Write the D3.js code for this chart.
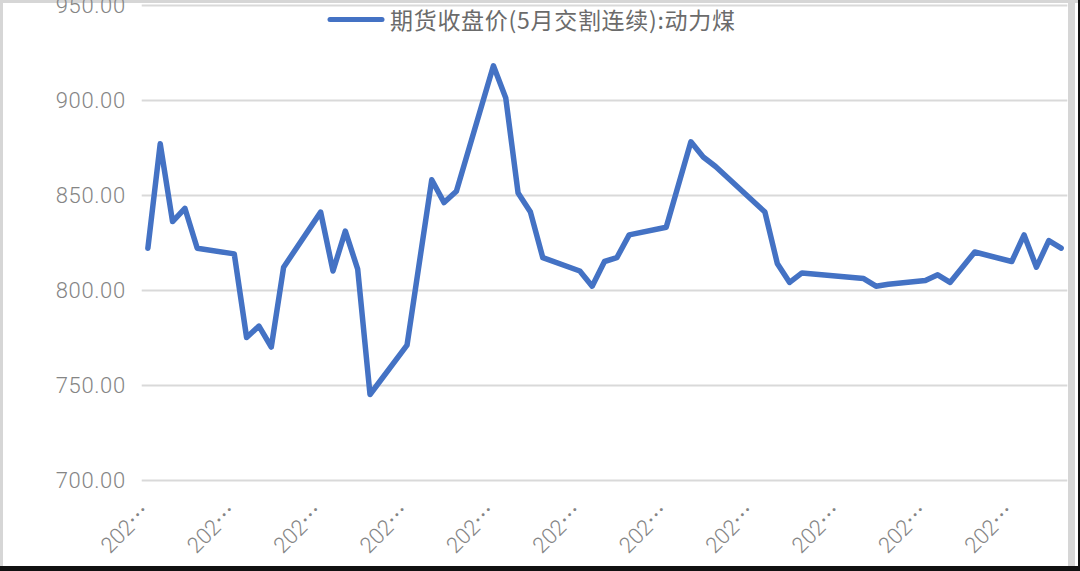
<!DOCTYPE html>
<html>
<head>
<meta charset="utf-8">
<script src="https://cdn.jsdelivr.net/npm/d3@7/dist/d3.min.js"></script>
<style>
  html, body { margin: 0; padding: 0; background: #fff; }
  svg { display: block; }
</style>
</head>
<body>
<svg id="chart" width="1080" height="571"></svg>
<script>
// ---- data ----
const seriesName = "期货收盘价(5月交割连续):动力煤";
const dates = [
  "2022-02-07","2022-02-08","2022-02-09","2022-02-10","2022-02-11",
  "2022-02-14","2022-02-15","2022-02-16","2022-02-17","2022-02-18",
  "2022-02-21","2022-02-22","2022-02-23","2022-02-24","2022-02-25",
  "2022-02-28","2022-03-02","2022-03-03","2022-03-04",
  "2022-03-07","2022-03-08","2022-03-09","2022-03-10","2022-03-11",
  "2022-03-14","2022-03-15","2022-03-16","2022-03-17","2022-03-18",
  "2022-03-21","2022-03-23","2022-03-24","2022-03-25",
  "2022-03-29","2022-03-30","2022-03-31","2022-04-01",
  "2022-04-06","2022-04-07","2022-04-08",
  "2022-04-11","2022-04-12","2022-04-13","2022-04-15",
  "2022-04-18","2022-04-19","2022-04-20","2022-04-21","2022-04-22"
];
const values = [
  822, 877, 836, 843, 822,
  819, 775, 781, 770, 812,
  841, 810, 831, 811, 745,
  771, 858, 846, 852,
  918, 901, 851, 841, 817,
  810, 802, 815, 817, 829,
  833, 878, 870, 865,
  841, 814, 804, 809,
  806, 802, 803,
  805, 808, 804, 820,
  815, 829, 812, 826, 822
];
const tickDates = [
  "2022-02-07","2022-02-14","2022-02-21","2022-02-28","2022-03-07",
  "2022-03-14","2022-03-21","2022-03-28","2022-04-04","2022-04-11","2022-04-18"
];
const yTicks = [700, 750, 800, 850, 900, 950];

// ---- setup ----
const parse = d3.utcParse("%Y-%m-%d");
const fmtFull = d3.utcFormat("%Y-%m-%d");
const data = dates.map((d, i) => ({ date: parse(d), value: values[i] }));
const halfDay = 12 * 3600 * 1000;

const svg = d3.select("#chart");
const W = 1080, H = 571;
const plotLeft = 141.7, plotRight = 1067.3;

const x = d3.scaleUtc()
  .domain([new Date(+data[0].date - halfDay), new Date(+data[data.length - 1].date + halfDay)])
  .range([plotLeft, plotRight]);
const y = d3.scaleLinear().domain([700, 950]).range([480, 5]);

// frame
svg.append("rect").attr("x", 0).attr("y", 0).attr("width", W).attr("height", H).attr("fill", "#fff");
svg.append("rect").attr("x", 0).attr("y", 0).attr("width", 3).attr("height", H).attr("fill", "#d6d6d6");
svg.append("rect").attr("x", 0).attr("y", 0).attr("width", W).attr("height", 3).attr("fill", "#d6d6d6");
svg.append("rect").attr("x", 1068).attr("y", 0).attr("width", 7).attr("height", H).attr("fill", "#d6d6d6");
svg.append("rect").attr("x", 1078).attr("y", 0).attr("width", 2).attr("height", H).attr("fill", "#111");
svg.append("rect").attr("x", 0).attr("y", 566).attr("width", W).attr("height", 5).attr("fill", "#111");

// y grid + labels
const yAxis = d3.axisLeft(y)
  .tickValues(yTicks)
  .tickSize(-(plotRight - plotLeft))
  .tickPadding(16)
  .tickFormat(d3.format(".2f"));
const gy = svg.append("g").attr("transform", `translate(${plotLeft},0)`).call(yAxis);
gy.select(".domain").remove();
gy.selectAll(".tick line").attr("stroke", "#d9d9d9").attr("stroke-width", 2);
gy.selectAll(".tick text")
  .attr("fill", "#858585")
  .attr("font-family", "Roboto, 'Noto Sans', sans-serif")
  .attr("font-weight", 300)
  .attr("font-size", 22)
  .attr("letter-spacing", "0.6px");

// x labels (truncated dates, rotated)
const xAxis = d3.axisBottom(x)
  .tickValues(tickDates.map(parse))
  .tickSize(0)
  .tickFormat(() => "");
const gx = svg.append("g").attr("transform", `translate(0,480)`).call(xAxis);
gx.select(".domain").remove();
gx.selectAll(".tick text").remove();
gx.selectAll(".tick").each(function(d) {
  const full = fmtFull(d);
  const t = d3.select(this).append("text")
    .attr("fill", "#858585")
    .attr("font-size", 22)
    .attr("text-anchor", "end")
    .attr("transform", "translate(3,33) rotate(-45)");
  t.append("tspan").attr("font-family", "Roboto, 'Noto Sans', sans-serif").attr("font-weight", 300).text(full.slice(0, 3));
  t.append("tspan").attr("font-family", "'Noto Sans CJK SC', sans-serif").text("…");
});

// line
const line = d3.line().x(d => x(d.date)).y(d => y(d.value));
svg.append("path")
  .datum(data)
  .attr("fill", "none")
  .attr("stroke", "#4472c4")
  .attr("stroke-width", 5.5)
  .attr("stroke-linejoin", "round")
  .attr("stroke-linecap", "round")
  .attr("d", line);

// legend
const lg = svg.append("g");
lg.append("line")
  .attr("x1", 330).attr("x2", 382).attr("y1", 19.5).attr("y2", 19.5)
  .attr("stroke", "#4472c4").attr("stroke-width", 5).attr("stroke-linecap", "round");
lg.append("text")
  .attr("x", 390).attr("y", 19)
  .attr("dominant-baseline", "central")
  .attr("fill", "#6b6b6b")
  .attr("font-family", "'Noto Sans CJK SC', sans-serif")
  .attr("font-size", 23)
  .attr("textLength", 345)
  .attr("lengthAdjust", "spacing")
  .text(seriesName);
</script>
</body>
</html>
